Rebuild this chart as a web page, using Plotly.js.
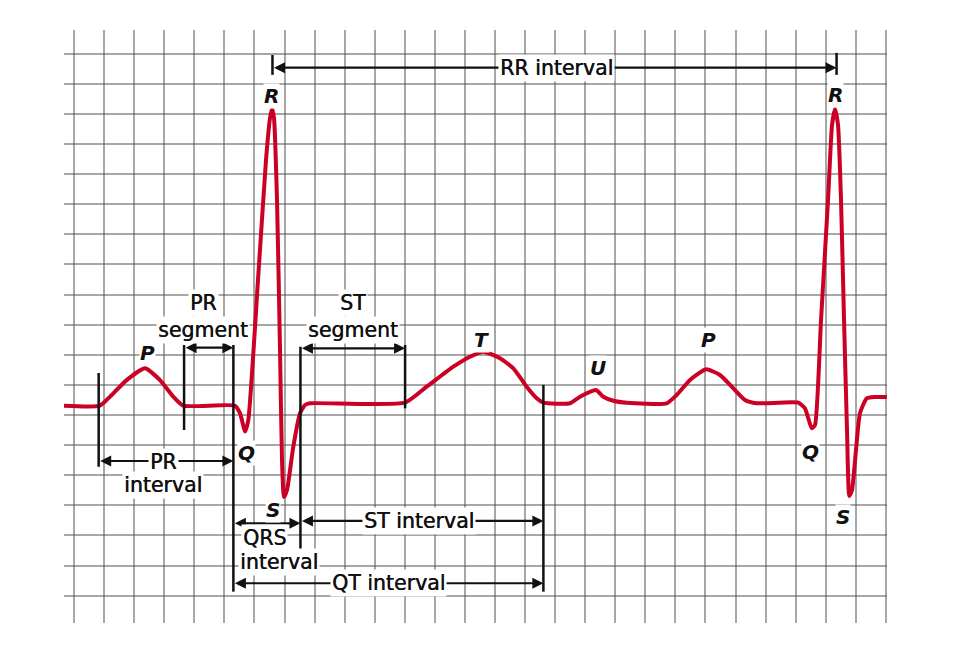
<!DOCTYPE html>
<html>
<head>
<meta charset="utf-8">
<script src="https://cdn.plot.ly/plotly-3.0.1.min.js"></script>
<style>
html,body{margin:0;padding:0;background:#ffffff;}
#chart{width:966px;height:647px;}
</style>
</head>
<body>
<div id="chart"></div>
<script>
// ECG trace: time in grid boxes (x), amplitude in grid boxes (y)
const ecgTime = [-0.40, 0.865, 1.197, 1.75, 2.36, 2.86, 3.30, 3.63, 5.35,
  5.52, 5.69, 5.797, 6.119, 6.385, 6.518, 6.585, 6.651, 6.751, 6.851, 6.917,
  6.984, 7.084, 7.293, 7.516, 7.682, 7.848, 11.007,
  11.729, 12.614, 13.169, 13.612, 14.167, 14.610, 15.055, 15.388, 15.607,
  16.495, 16.827, 17.359, 17.602, 17.935, 18.38, 19.711,
  20.043, 20.486, 21.018, 21.483, 21.926, 22.315, 22.704, 24.087,
  24.310, 24.533, 24.643, 24.843, 25.076, 25.209, 25.308, 25.408, 25.508, 25.608, 25.707,
  25.784, 25.873, 26.006, 26.139, 26.362, 26.638, 27.2];
const ecgAmp = [0.31, 0.31, 0.61, 1.16, 1.55, 1.16, 0.61, 0.31, 0.31,
  0.06, -0.55, -0.166, 4.485, 8.472, 9.867, 10.166, 9.867, 7.143, 2.159, -1.495,
  -2.724, -2.492, -1.053, 0.056, 0.332, 0.39, 0.409,
  0.940, 1.605, 1.937, 2.103, 1.884, 1.551, 0.940, 0.555, 0.409,
  0.389, 0.608, 0.831, 0.608, 0.475, 0.409, 0.389,
  0.664, 1.163, 1.518, 1.329, 0.887, 0.498, 0.389, 0.409,
  0.223, -0.442, -0.332, 3.156, 7.143, 9.635, 10.166, 9.635, 7.143, 3.156, -0.498,
  -2.691, -2.492, -1.163, 0.066, 0.555, 0.598, 0.59];

// Wave labels
const waveLabels = ["P", "Q", "R", "S", "T", "U", "P", "Q", "R", "S"];
const waveLabelX = [2.44, 5.74, 6.57, 6.61, 13.56, 17.44, 21.09, 24.48, 25.34, 25.56];
const waveLabelY = [2.05, -1.27, 10.61, -3.16, 2.49, 1.55, 2.49, -1.22, 10.63, -3.38];

// Vertical boundary markers
const markerX = [0.82, 3.66, 5.30, 7.53, 11.01, 15.61, 6.60, 25.36];
const markerTop = [1.395, 2.326, 2.326, 2.27, 2.326, 1.0, 11.96, 12.03];
const markerBottom = [-1.72, -0.498, -5.87, -4.485, 0.222, -5.87, 11.30, 11.30];

// Interval arrows
const intervalNames = ["RR interval", "PR segment", "PR interval", "QRS interval", "ST segment", "ST interval", "QT interval"];
const intervalStart = [6.60, 3.66, 0.82, 5.30, 7.53, 7.53, 5.30];
const intervalEnd = [25.36, 5.30, 5.30, 7.53, 11.01, 15.61, 15.61];
const intervalLevel = [11.54, 2.236, -1.528, -3.60, 2.216, -3.52, -5.59];

// Interval text lines
const textLines = ["RR interval", "PR", "segment", "ST", "segment", "PR", "interval", "QRS", "interval", "ST interval", "QT interval"];
const textX = [16.06, 4.30, 4.30, 9.29, 9.29, 2.97, 2.97, 6.35, 6.82, 11.47, 10.45];
const textY = [11.54, 3.71, 2.82, 3.71, 2.82, -1.55, -2.33, -4.09, -4.87, -3.52, -5.59];

const ink = "#111111";
const fontFam = "DejaVu Sans, Liberation Sans, Arial, sans-serif";

const shapes = markerX.map((x, i) => ({
  type: "line", xref: "x", yref: "y",
  x0: x, x1: x, y0: markerBottom[i], y1: markerTop[i],
  line: {color: ink, width: 2.5}
}));

const annotations = [];
intervalNames.forEach((n, i) => {
  annotations.push({
    xref: "x", yref: "y", axref: "x", ayref: "y",
    x: intervalEnd[i], y: intervalLevel[i],
    ax: intervalStart[i], ay: intervalLevel[i],
    text: "", showarrow: true, arrowhead: 2, arrowside: "end+start",
    arrowsize: 1, arrowwidth: 2.2, arrowcolor: ink,
    standoff: 0, startstandoff: 0
  });
});
textLines.forEach((t, i) => {
  annotations.push({
    xref: "x", yref: "y", x: textX[i], y: textY[i],
    text: t, showarrow: false, bgcolor: "#ffffff", borderpad: 1,
    font: {family: fontFam, size: 20.5, color: ink, shadow: "0.45px 0 0 #111111"},
    xanchor: "center", yanchor: "middle"
  });
});
waveLabels.forEach((t, i) => {
  annotations.push({
    xref: "x", yref: "y", x: waveLabelX[i], y: waveLabelY[i],
    text: "<b><i>" + t + "</i></b>", showarrow: false, bgcolor: "#ffffff", borderpad: 0,
    font: {family: fontFam, size: 20, color: ink},
    xanchor: "center", yanchor: "middle"
  });
});

const trace = {
  x: ecgTime, y: ecgAmp, type: "scatter", mode: "lines",
  line: {color: "#cc0025", width: 4, shape: "spline", smoothing: 0.5},
  hoverinfo: "skip"
};

const gridColor = "rgba(80,80,80,0.5)";
const layout = {
  width: 966, height: 647,
  margin: {l: 64, r: 79, t: 30, b: 24},
  paper_bgcolor: "#ffffff", plot_bgcolor: "#ffffff",
  showlegend: false,
  xaxis: {range: [-0.333, 27.037], dtick: 1, tick0: 0, showgrid: true, gridcolor: gridColor, gridwidth: 2,
          zeroline: false, showticklabels: false, ticks: "", showline: false, fixedrange: true},
  yaxis: {range: [-6.91, 12.79], dtick: 1, tick0: 0, showgrid: true, gridcolor: gridColor, gridwidth: 2,
          zeroline: false, showticklabels: false, ticks: "", showline: false, fixedrange: true},
  shapes: shapes,
  annotations: annotations
};

Plotly.newPlot("chart", [trace], layout, {displayModeBar: false, staticPlot: true});
</script>
</body>
</html>
